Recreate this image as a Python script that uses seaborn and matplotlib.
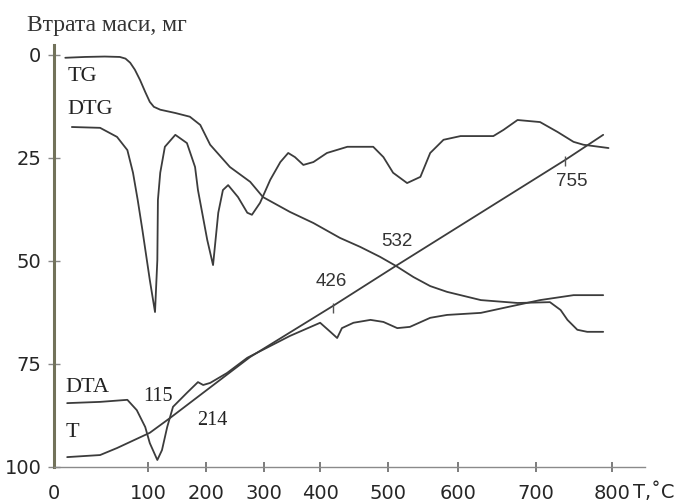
import numpy as np
import seaborn as sns
import matplotlib.pyplot as plt

# Thermogram data (temperature in C, mass-loss axis units)
tg_temp = [12, 33, 54, 70, 76, 81, 86, 91.5, 97, 103, 110, 121, 147, 172, 190, 207, 241, 276,
           298, 346, 388, 429, 459, 488, 511, 536, 560, 584, 629, 676, 718, 732, 741, 754, 767, 788]
tg_loss = [0.7, 0.5, 0.4, 0.5, 0.9, 1.9, 3.6, 6.1, 9.0, 11.4, 12.6, 13.3, 14.1, 15.0, 17.0,
           21.8, 27.2, 30.8, 34.5, 38.1, 40.8, 44.4, 46.6, 49.0, 51.2, 53.9, 56.1, 57.5, 59.5,
           60.2, 60.0, 61.9, 64.3, 66.7, 67.2, 67.2]

dtg_temp = [19, 49, 67, 78, 84, 89, 94, 103, 112, 116, 117, 121, 129, 147, 167, 181, 186, 202,
            212, 221, 229, 238, 255, 271, 279, 293, 311, 329, 343, 355, 370, 388, 410, 440, 478,
            493, 507, 527, 546, 560, 579, 603, 645, 658, 676, 705, 728, 749, 762, 795]
dtg_val = [17.5, 17.7, 19.9, 23.1, 28.6, 35.2, 42.5, 54.6, 62.4, 49.8, 35.2, 28.6, 22.3, 19.4,
           21.4, 27.2, 32.8, 44.9, 51.0, 38.3, 32.8, 31.6, 34.5, 38.3, 38.8, 35.9, 30.3, 26.0,
           23.8, 24.8, 26.7, 26.0, 23.8, 22.3, 22.3, 24.8, 28.6, 31.1, 29.6, 23.8, 20.6, 19.7,
           19.7, 18.2, 15.8, 16.3, 18.7, 21.1, 21.8, 22.6]

t_temp = [14, 49, 67, 103, 138, 276, 419, 511, 629, 738, 788]
t_val = [97.6, 97.1, 95.4, 91.7, 88.1, 73.3, 60.9, 51.2, 38.3, 25.5, 19.4]

dta_temp = [14, 49, 78, 88, 97, 103, 116, 124, 133, 143, 167, 186, 195, 207, 236, 271, 346,
            400, 415, 425, 432, 449, 474, 493, 513, 531, 560, 584, 629, 663, 705, 749, 788]
dta_val = [84.5, 84.2, 83.7, 86.2, 90.3, 94.2, 98.3, 95.9, 90.3, 85.4, 82.0, 79.4, 80.1, 79.6,
           77.2, 73.5, 68.2, 65.0, 67.2, 68.7, 66.3, 65.0, 64.3, 64.8, 66.3, 66.0, 63.8, 63.1,
           62.6, 61.2, 59.5, 58.3, 58.3]

mark_temp = [419, 738]
mark_val = [61.4, 25.7]

x_ticks = [0, 100, 200, 300, 400, 500, 600, 700, 800]
y_ticks = [0, 25, 50, 75, 100]

# the original temperature axis is not evenly spaced
T_KNOTS = [0, 100, 200, 300, 400, 500, 600, 700, 800, 900]
PX_KNOTS = [54, 148, 206, 264, 320, 388, 458, 536, 612, 688]


def fwd(t):
    return np.interp(t, T_KNOTS, PX_KNOTS)


def inv(p):
    return np.interp(p, PX_KNOTS, T_KNOTS)


sns.set_style("white")
plt.rcParams['font.family'] = ['Liberation Serif', 'DejaVu Serif']
plt.rcParams['xtick.bottom'] = True
plt.rcParams['ytick.left'] = True

fig = plt.figure(figsize=(6.77, 5.04), dpi=100)
ax = fig.add_axes([54 / 677, 37 / 504, 591 / 677, 422 / 504])
ax.set_xscale('function', functions=(fwd, inv))

line_c = '#3c3c3c'
for xs, ys in [(tg_temp, tg_loss), (dtg_temp, dtg_val), (t_temp, t_val), (dta_temp, dta_val)]:
    sns.lineplot(x=xs, y=ys, ax=ax, color=line_c, linewidth=1.3, estimator=None)
ax.plot(mark_temp, mark_val, ls='none', marker='|', ms=7, mew=1.0, color='#555555')

ax.set_xlim(0, 843)
ax.set_ylim(100, -2.4)

for s in ['top', 'right']:
    ax.spines[s].set_visible(False)
ax.spines['left'].set_color('#72725a')
ax.spines['left'].set_linewidth(2.2)
ax.spines['bottom'].set_color('#8a8a8a')
ax.spines['bottom'].set_linewidth(1.0)

tick_font = {'family': ['Liberation Sans Narrow', 'DejaVu Sans'], 'size': 14}
ax.set_xticks(x_ticks)
ax.set_xticklabels([str(v) for v in x_ticks], fontdict=tick_font)
ax.set_yticks(y_ticks)
ax.set_yticklabels([str(v) for v in y_ticks], fontdict=tick_font)
ax.tick_params(axis='x', bottom=True, direction='inout', length=7, width=1.2, color='#666666', pad=9)
ax.tick_params(axis='y', left=True, direction='inout', length=8, width=1.0, color='#888888', pad=5)
ax.xaxis.get_major_ticks()[0].tick1line.set_visible(False)

# curve names
ax.text(14, 5.3, 'TG', fontsize=16, va='center', ha='left', color='#222222')
ax.text(14, 13.3, 'DTG', fontsize=16, va='center', ha='left', color='#222222')
ax.text(12, 80.8, 'DTA', fontsize=16, va='center', ha='left', color='#222222')
ax.text(12, 91.7, 'T', fontsize=16, va='center', ha='left', color='#222222')

# peak temperatures
ax.text(117, 83, '115', fontsize=14.5, va='center', ha='center', color='#222222')
ax.text(210, 88.6, '214', fontsize=14.5, va='center', ha='center', color='#222222')
sans = ['Liberation Sans', 'DejaVu Sans']
ax.text(416, 55.1, '426', fontsize=13.5, family=sans, va='center', ha='center', color='#333333')
ax.text(513, 45.4, '532', fontsize=13.5, family=sans, va='center', ha='center', color='#333333')
ax.text(747, 30.8, '755', fontsize=13.5, family=sans, va='center', ha='center', color='#333333')

ax.text(827, 106.2, 'T,˚C', fontsize=14, family=['Liberation Sans Narrow', 'DejaVu Sans'],
        va='center', ha='left', clip_on=False)
fig.text(27 / 677, 1 - 25 / 504, 'Втрата маси, мг', fontsize=17, va='center', ha='left',
         color='#333333')

fig.savefig('out.png', dpi=100)
